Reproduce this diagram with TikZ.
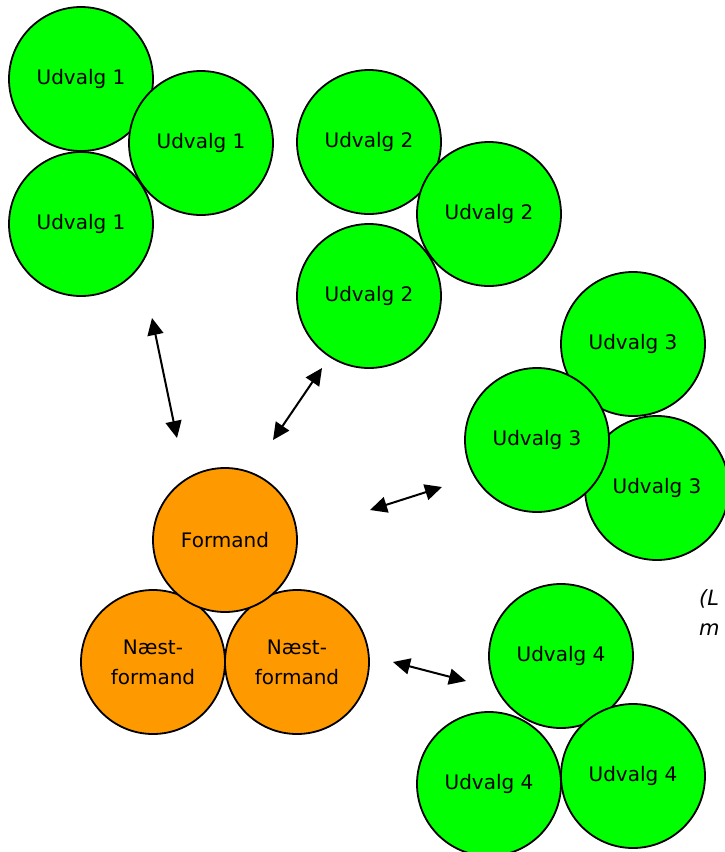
\documentclass[tikz,border=0pt]{standalone}
\usepackage{fontspec}
\setmainfont{DejaVu Sans}
\usetikzlibrary{arrows.meta}
\definecolor{grn}{HTML}{00FF00}
\definecolor{org}{HTML}{FF9900}
\begin{document}
\begin{tikzpicture}[x=1pt,y=-1pt,
  circ/.style={circle,draw=black,line width=1.8pt,minimum size=144pt,inner sep=0pt,
    font=\fontsize{20}{30}\selectfont,align=center},
  gc/.style={circ,fill=grn},
  oc/.style={circ,fill=org},
  link/.style={line width=2pt,{Triangle[length=17pt,width=16pt]}-{Triangle[length=17pt,width=16pt]}}]
\useasboundingbox (0,0) rectangle (725,852);
\clip (0,0) rectangle (725,852);
% Udvalg 1
\node[gc] (u1a) at (81,79) {Udvalg 1};
\node[gc] (u1c) at (81,224) {Udvalg 1};
\node[gc] (u1b) at (201,143) {Udvalg 1};
% Udvalg 2
\node[gc] (u2a) at (369,142) {Udvalg 2};
\node[gc] (u2c) at (369,296) {Udvalg 2};
\node[gc] (u2b) at (489,214) {Udvalg 2};
% Udvalg 3
\node[gc] (u3a) at (633,344) {Udvalg 3};
\node[gc] (u3c) at (657,488) {Udvalg 3};
\node[gc] (u3b) at (537,440) {Udvalg 3};
% Udvalg 4
\node[gc] (u4a) at (561,656) {Udvalg 4};
\node[gc] (u4b) at (489,784) {Udvalg 4};
\node[gc] (u4c) at (633,776) {Udvalg 4};
% Formandskab
\node[oc] (n1) at (153,662) {Næst-\\formand};
\node[oc] (n2) at (297,662) {Næst-\\formand};
\node[oc] (f) at (225,540) {Formand};
% side text
\node[anchor=west,align=left,inner sep=0pt,font=\fontsize{21}{30}\selectfont\itshape] (note) at (699,613) {(L\\m};
% arrows
\coordinate (a1s) at (152,318); \coordinate (a1e) at (177,438);
\coordinate (a2s) at (322,368); \coordinate (a2e) at (273,440);
\coordinate (a3s) at (370,510); \coordinate (a3e) at (442,487);
\coordinate (a4s) at (393,662); \coordinate (a4e) at (466,681);
\draw[link] (a1s) -- (a1e);
\draw[link] (a2s) -- (a2e);
\draw[link] (a3s) -- (a3e);
\draw[link] (a4s) -- (a4e);
\end{tikzpicture}
\end{document}
